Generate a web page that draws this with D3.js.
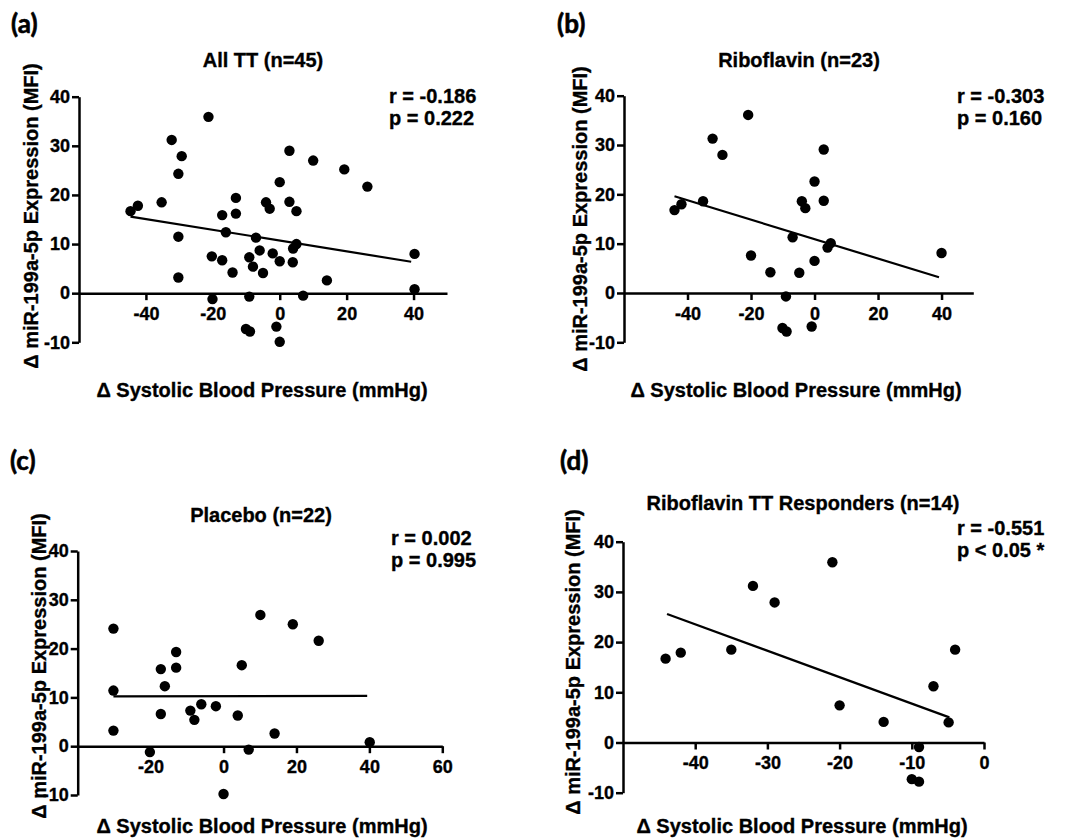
<!DOCTYPE html>
<html>
<head>
<meta charset="utf-8">
<script src="https://cdn.jsdelivr.net/npm/d3@7"></script>
<style>
  body { margin: 0; background: #fff; }
  text { font-family: 'Liberation Sans', Arial, sans-serif; font-weight: bold; fill: #000; stroke: #000; stroke-width: 0.35px; }
</style>
</head>
<body>
<svg id="fig" width="1072" height="839"></svg>
<script>
// ---- values ----
// (a) All TT
const allSbp = [-44.6, -42.4, -35.3, -32.3, -29.3, -30.3, -30.3, -30.3, -21.3, -20.3, -20.1, -17.2, -17.2, -16.1, -13.1,
                -13.1, -14.1, -9.1, -8.0, -9.1, -10.1, -8.9, -7.1, -6.0, -5.0, -4.1, -3.0, -2.1, 0, 0,
                -1.0, 0, 2.9, 2.9, 5.0, 5.0, 4.0, 3.9, 7.0, 10.0, 14.1, 19.3, 26.2, 40.3, 40.3];
const allMir = [16.7, 17.8, 18.5, 31.2, 27.9, 24.3, 11.5, 3.2, 35.9, 7.5, -1.2, 15.9, 6.7, 12.4, 19.4,
                16.2, 4.2, 7.3, 5.4, -0.7, -7.3, -7.8, 11.3, 8.7, 4.1, 18.5, 17.2, 8.1, 22.6, 6.5,
                -6.8, -9.9, 29.0, 18.6, 16.7, 10.0, 9.1, 6.3, -0.5, 27.0, 2.6, 25.2, 21.7, 8.0, 0.8];
const allFit = [[-44.6, 15.6], [39.3, 6.4]];

// (b) Riboflavin
const ribSbp = [-44.1, -41.9, -35.1, -32.1, -29.0, -20.9, -20.0, -13.9, -9.0, -10.1, -8.8, -6.9, -4.8, -4.0, -2.9,
                0, 0, -0.9, 2.9, 2.9, 5.1, 4.1, 40.0];
const ribMir = [16.8, 18.0, 18.6, 31.3, 28.0, 36.1, 7.6, 4.2, -0.7, -7.1, -7.8, 11.3, 4.1, 18.6, 17.2,
                22.6, 6.5, -6.8, 29.1, 18.7, 10.1, 9.2, 8.1];
const ribFit = [[-44.1, 19.6], [39.2, 3.2]];

// (c) Placebo
const plaSbp = [-30.2, -30.2, -30.2, -20.2, -17.2, -17.2, -16.1, -13.0, -13.0, -9.1, -8.0, -6.1, -2.1, 0, 3.9,
                5.0, 6.9, 10.1, 14.0, 19.0, 26.1, 40.1];
const plaMir = [24.1, 11.4, 3.2, -1.2, 15.8, 6.6, 12.3, 19.3, 16.1, 7.3, 5.4, 8.6, 8.2, -9.8, 6.3,
                16.6, -0.7, 26.9, 2.6, 25.0, 21.6, 0.8];
const plaFit = [[-30.2, 10.2], [39.4, 10.3]];

// (d) Riboflavin TT responders
const resSbp = [-44.1, -42.0, -35.0, -32.0, -29.0, -21.0, -20.0, -13.9, -9.0, -10.0, -9.0, -7.0, -4.9, -4.0];
const resMir = [16.7, 17.9, 18.5, 31.2, 27.9, 35.9, 7.4, 4.1, -0.9, -7.3, -7.8, 11.2, 4.0, 18.5];
const resFit = [[-43.9, 25.6], [-4.8, 5.0]];

// axis ticks
const yTicks = [-10, 0, 10, 20, 30, 40];
const xTicksAB = [-40, -20, 0, 20, 40];
const xTicksC = [-20, 0, 20, 40, 60];
const xTicksD = [-40, -30, -20, -10, 0];

const xLabel = '\u0394 Systolic Blood Pressure (mmHg)';
const yLabel = '\u0394 miR-199a-5p Expression (MFI)';

// ---- panel layout ----
const panels = [
    { tag: '(a)', title: 'All TT (n=45)', stats: ['r = -0.186', 'p = 0.222'],
      xs: allSbp, ys: allMir, fit: allFit, xTicks: xTicksAB, xDomain: [-60, 50],
      xRange: [79, 447], yRange: [342.3, 96.7],
      tagPos: [11, 33], titlePos: [263, 67], statsPos: [389, 103], xLabPos: [262, 397], yLabPos: [38, 216] },
    { tag: '(b)', title: 'Riboflavin (n=23)', stats: ['r = -0.303', 'p = 0.160'],
      xs: ribSbp, ys: ribMir, fit: ribFit, xTicks: xTicksAB, xDomain: [-60, 50],
      xRange: [624, 973.3], yRange: [342.3, 95.7],
      tagPos: [557, 33], titlePos: [799, 67], statsPos: [957, 103], xLabPos: [796, 397], yLabPos: [587, 219] },
    { tag: '(c)', title: 'Placebo (n=22)', stats: ['r = 0.002', 'p = 0.995'],
      xs: plaSbp, ys: plaMir, fit: plaFit, xTicks: xTicksC, xDomain: [-40, 60],
      xRange: [77.7, 442.3], yRange: [795, 551],
      tagPos: [10, 470], titlePos: [261, 522], statsPos: [391, 545], xLabPos: [262, 833], yLabPos: [46, 666] },
    { tag: '(d)', title: 'Riboflavin TT Responders (n=14)', stats: ['r = -0.551', 'p < 0.05 *'],
      xs: resSbp, ys: resMir, fit: resFit, xTicks: xTicksD, xDomain: [-50, 0],
      xRange: [623, 984], yRange: [792.7, 541.7],
      tagPos: [560, 470], titlePos: [803, 510], statsPos: [957, 535], xLabPos: [802, 833], yLabPos: [580, 662] }
];

const svg = d3.select('#fig');
svg.append('rect').attr('width', 1072).attr('height', 839).attr('fill', '#fff');

function styleAxis(g) {
    g.attr('font-family', null).attr('font-size', null);
    g.selectAll('path, line').attr('stroke', '#000').attr('stroke-width', 2.5);
    g.selectAll('text')
        .attr('fill', '#000')
        .style('font-size', '18px')
        .style('font-weight', 'bold');
}

function drawPanel(p) {
    const g = svg.append('g');
    const x = d3.scaleLinear().domain(p.xDomain).range(p.xRange);
    const y = d3.scaleLinear().domain([-10, 40]).range(p.yRange);

    // y axis on the left edge
    g.append('g')
        .attr('transform', `translate(${p.xRange[0]},0)`)
        .call(d3.axisLeft(y).tickValues(yTicks).tickSize(7).tickPadding(2).tickSizeOuter(0).tickFormat(d => String(d)))
        .call(styleAxis);

    // x axis through zero
    g.append('g')
        .attr('transform', `translate(0,${y(0)})`)
        .call(d3.axisBottom(x).tickValues(p.xTicks).tickSize(7).tickPadding(7).tickSizeOuter(0).tickFormat(d => String(d)))
        .call(styleAxis);

    // regression line
    g.append('path')
        .datum(p.fit)
        .attr('fill', 'none')
        .attr('stroke', '#000')
        .attr('stroke-width', 2.2)
        .attr('d', d3.line().x(d => x(d[0])).y(d => y(d[1])));

    // points
    g.append('g').selectAll('circle')
        .data(p.xs.map((v, i) => [v, p.ys[i]]))
        .enter()
        .append('circle')
        .attr('cx', d => x(d[0]))
        .attr('cy', d => y(d[1]))
        .attr('r', 5.2)
        .attr('fill', '#000');

    // texts
    g.append('text')
        .attr('x', p.tagPos[0]).attr('y', p.tagPos[1])
        .style('font-family', "Lato, 'Open Sans', sans-serif")
        .style('font-size', '26px')
        .style('stroke-width', '0.6px')
        .text(p.tag);

    g.append('text')
        .attr('x', p.titlePos[0]).attr('y', p.titlePos[1])
        .attr('text-anchor', 'middle')
        .style('font-size', '20px')
        .text(p.title);

    g.selectAll('.stat')
        .data(p.stats)
        .enter()
        .append('text')
        .attr('class', 'stat')
        .attr('x', p.statsPos[0])
        .attr('y', (d, i) => p.statsPos[1] + i * 22)
        .style('font-size', '20px')
        .text(d => d);

    g.append('text')
        .attr('x', p.xLabPos[0]).attr('y', p.xLabPos[1])
        .attr('text-anchor', 'middle')
        .style('font-size', '20px')
        .text(xLabel);

    g.append('text')
        .attr('transform', `translate(${p.yLabPos[0]},${p.yLabPos[1]}) rotate(-90)`)
        .attr('text-anchor', 'middle')
        .style('font-size', '20px')
        .text(yLabel);
}

panels.forEach(drawPanel);
</script>
</body>
</html>
